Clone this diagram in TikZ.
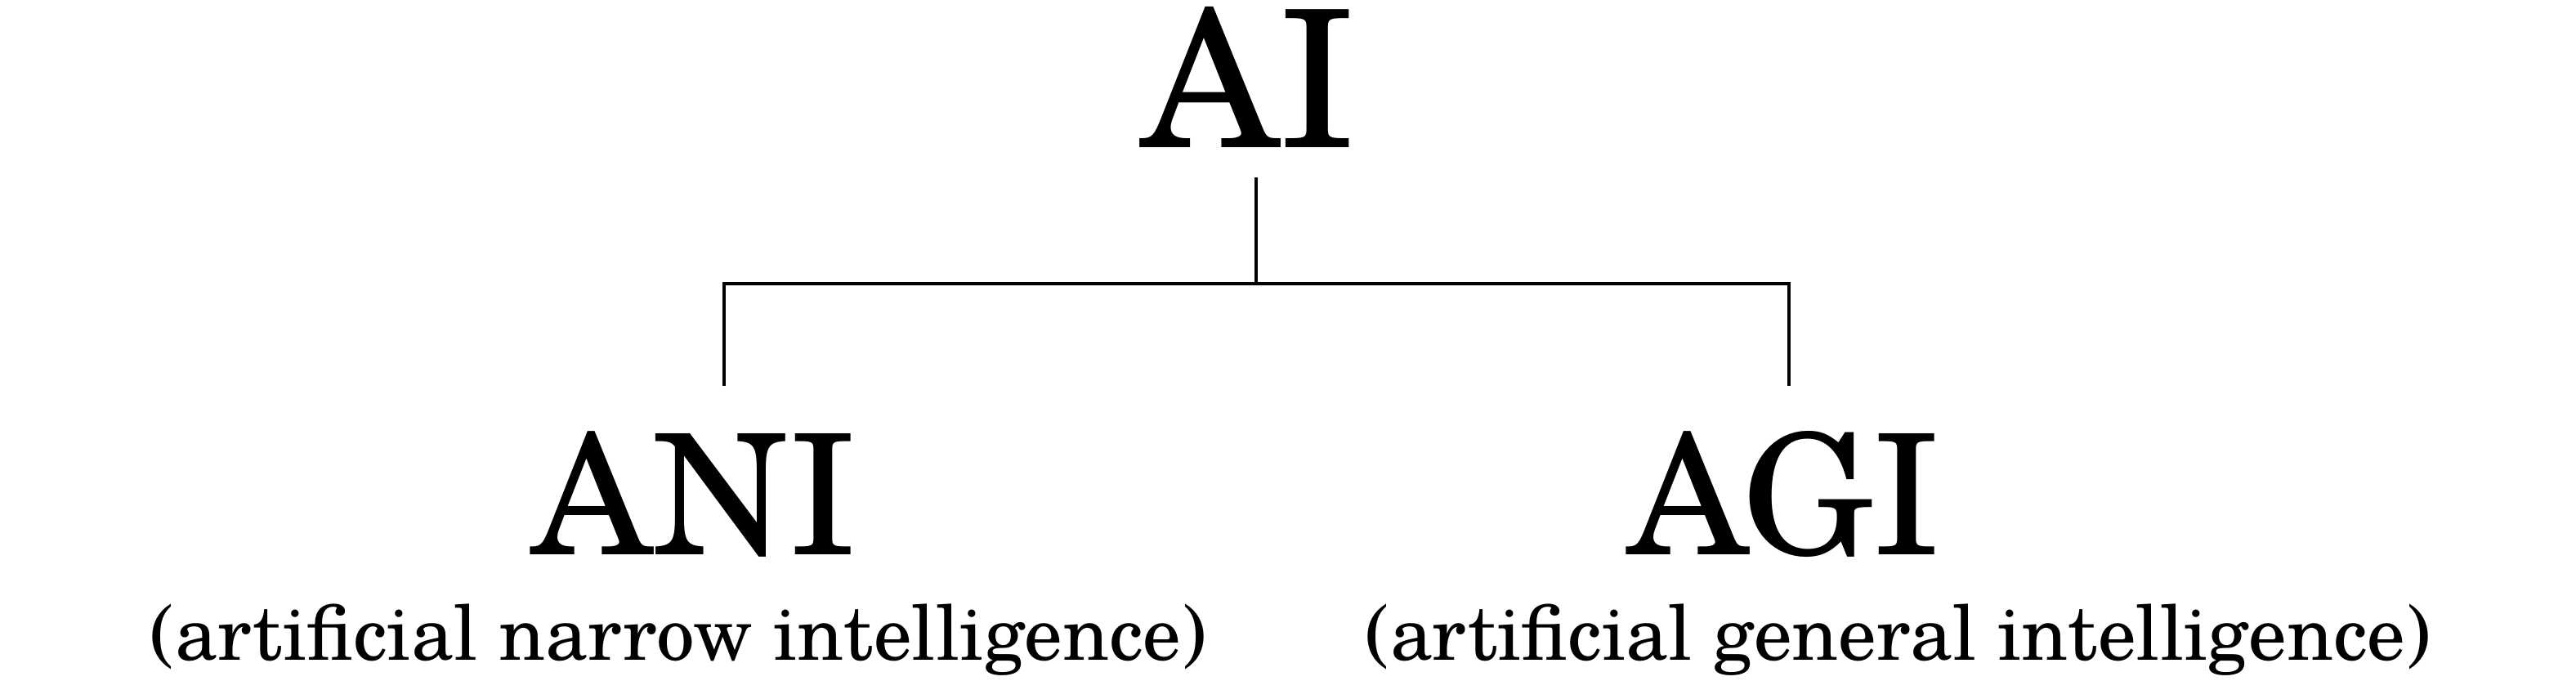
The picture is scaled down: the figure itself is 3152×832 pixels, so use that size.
\documentclass[tikz,border=0pt]{standalone}
\usepackage{fontspec}
\setmainfont{TeX Gyre Schola}
\begin{document}
\begin{tikzpicture}[x=0.01cm,y=-0.01cm,
  lbl/.style={inner sep=0pt,anchor=base,text=black},
  big/.style={lbl,font=\fontsize{66.5pt}{70pt}\selectfont},
  mid/.style={lbl,font=\fontsize{58.3pt}{62pt}\selectfont},
  sub/.style={lbl,font=\fontsize{26.5pt}{30pt}\selectfont},
  conn/.style={draw=black,line width=1.4pt}]
\useasboundingbox[fill=white] (0,0) rectangle (3152,832);
\node[big] (ai) at (1528,180) {AI};
\node[mid] (ani) at (850,678) {ANI};
\node[mid] (agi) at (2183,678) {AGI};
\node[sub] (anisub) at (830,807) {(artificial narrow intelligence)};
\node[sub] (agisub) at (2322,807) {(artificial general intelligence)};
\coordinate (aibot) at (1537,217);
\coordinate (junc) at (1537,347);
\coordinate (lcorner) at (886,347);
\coordinate (rcorner) at (2189,347);
\coordinate (ltop) at (886,472);
\coordinate (rtop) at (2189,472);
\draw[conn] (aibot) -- (junc);
\draw[conn] (ltop) -- (lcorner) -- (rcorner) -- (rtop);
\end{tikzpicture}
\end{document}
